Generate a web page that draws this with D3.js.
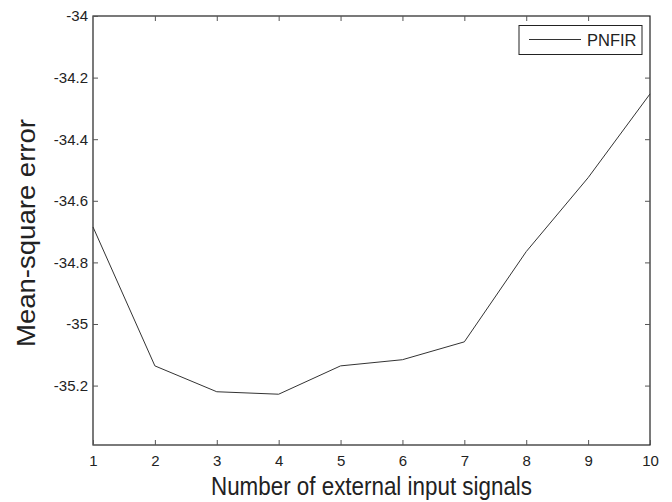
<!DOCTYPE html>
<html>
<head>
<meta charset="utf-8">
<script src="https://cdn.jsdelivr.net/npm/d3@7"></script>
<style>
html,body{margin:0;padding:0;background:#fff;}
svg{display:block;font-family:"Liberation Sans",Arial,sans-serif;}
</style>
</head>
<body>
<svg id="chart" width="672" height="502"></svg>
<script>
const xValues = [1, 2, 3, 4, 5, 6, 7, 8, 9, 10];
const mseValues = [-34.685, -35.136, -35.220, -35.228, -35.136, -35.116, -35.058, -34.765, -34.525, -34.253];
const xTicks = [1, 2, 3, 4, 5, 6, 7, 8, 9, 10];
const yTicks = [-34, -34.2, -34.4, -34.6, -34.8, -35, -35.2];
const seriesName = "PNFIR";
const xTitle = "Number of external input signals";
const yTitle = "Mean-square error";

const svg = d3.select("#chart");
const L = 93, R = 650, T = 16, B = 445;
const x = d3.scaleLinear().domain([1, 10]).range([L, R]);
const y = d3.scaleLinear().domain([-35.3929, -34]).range([B, T]);
const ink = "#222";
const tickLen = 5;

// frame
svg.append("rect").attr("x", L).attr("y", T).attr("width", R - L).attr("height", B - T)
  .attr("fill", "none").attr("stroke", ink).attr("stroke-width", 1.2);

// x axis bottom
const gx = svg.append("g").attr("transform", `translate(0,${B})`)
  .call(d3.axisBottom(x).tickValues(xTicks).tickSize(-tickLen).tickPadding(10).tickFormat(d3.format("d")));
gx.select(".domain").remove();
gx.selectAll("line").attr("stroke", "#555");
gx.selectAll("text").attr("font-size", 15).attr("fill", ink).attr("font-family", "Liberation Sans, Arial, sans-serif");
// x axis top ticks
const gxt = svg.append("g").attr("transform", `translate(0,${T})`)
  .call(d3.axisTop(x).tickValues(xTicks.slice(1, -1)).tickSize(-tickLen).tickFormat(""));
gxt.select(".domain").remove();
gxt.selectAll("line").attr("stroke", "#555");

// y axis left
const gy = svg.append("g").attr("transform", `translate(${L},0)`)
  .call(d3.axisLeft(y).tickValues(yTicks).tickSize(-tickLen).tickPadding(5).tickFormat(d => String(d)));
gy.select(".domain").remove();
gy.selectAll("line").attr("stroke", "#555");
gy.selectAll("text").attr("font-size", 15).attr("fill", ink).attr("font-family", "Liberation Sans, Arial, sans-serif");
// y axis right ticks
const gyr = svg.append("g").attr("transform", `translate(${R},0)`)
  .call(d3.axisRight(y).tickValues(yTicks.slice(1)).tickSize(-tickLen).tickFormat(""));
gyr.select(".domain").remove();
gyr.selectAll("line").attr("stroke", "#555");

// line
const line = d3.line().x((d, i) => x(xValues[i])).y(d => y(d));
svg.append("path").datum(mseValues).attr("d", line)
  .attr("fill", "none").attr("stroke", "#333").attr("stroke-width", 1);

// titles
svg.append("text").attr("x", (L + R) / 2).attr("y", 495).attr("text-anchor", "middle")
  .attr("font-size", 25).attr("fill", ink)
  .attr("textLength", 321).attr("lengthAdjust", "spacingAndGlyphs").text(xTitle);
svg.append("text").attr("transform", `translate(34.5,233) rotate(-90)`)
  .attr("text-anchor", "middle").attr("font-size", 25).attr("fill", ink)
  .attr("textLength", 228).attr("lengthAdjust", "spacingAndGlyphs").text(yTitle);

// legend
const lg = svg.append("g");
lg.append("rect").attr("x", 519).attr("y", 25.5).attr("width", 123).attr("height", 29)
  .attr("fill", "#fff").attr("stroke", ink).attr("stroke-width", 1);
lg.append("line").attr("x1", 529).attr("x2", 581).attr("y1", 39.5).attr("y2", 39.5)
  .attr("stroke", "#333").attr("stroke-width", 1);
lg.append("text").attr("x", 587).attr("y", 45.5).attr("font-size", 16.5).attr("fill", ink).text(seriesName);
</script>
</body>
</html>
